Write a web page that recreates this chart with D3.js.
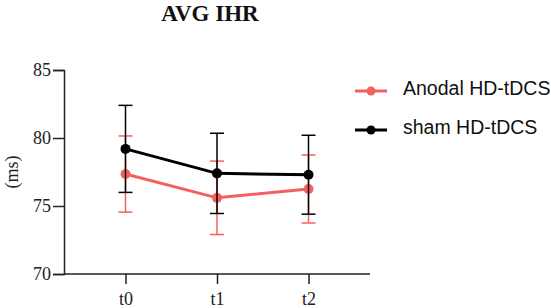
<!DOCTYPE html>
<html>
<head>
<meta charset="utf-8">
<script src="https://cdn.jsdelivr.net/npm/d3@7"></script>
<style>
  body { margin: 0; background: #fff; }
</style>
</head>
<body>
<div id="chart"></div>
<script>
var categories = ["t0", "t1", "t2"];
var yTicks = [70, 75, 80, 85];
var anodalMean = [77.35, 75.6, 76.25];
var anodalErr = [2.8, 2.7, 2.5];
var shamMean = [79.2, 77.4, 77.3];
var shamErr = [3.2, 2.95, 2.9];
var seriesNames = ["Anodal HD-tDCS", "sham HD-tDCS"];
var seriesColors = ["#f4605f", "#000000"];

function init(){
    var w = 551, h = 308;
    var serif = "Liberation Serif, Times New Roman, serif";
    var svg = d3.select("#chart").append("svg")
                .attr("width", w)
                .attr("height", h);

    var xScale = d3.scalePoint()
                .domain(categories)
                .range([64, 370])
                .padding(0.672);

    var yScale = d3.scaleLinear()
                .domain([70, 85])
                .range([274, 70]);

    // title
    svg.append("text")
        .attr("x", 210)
        .attr("y", 21)
        .attr("text-anchor", "middle")
        .attr("font-family", serif)
        .attr("font-weight", "bold")
        .attr("font-size", "23px")
        .attr("fill", "#111")
        .text("AVG IHR");

    // y axis
    var yAxis = d3.axisLeft(yScale)
                .tickValues(yTicks)
                .tickSize(11)
                .tickPadding(2);
    var gy = svg.append("g")
        .attr("transform", "translate(64,0)")
        .call(yAxis);
    gy.select(".domain").attr("stroke", "#222").attr("stroke-width", 1.5);
    gy.selectAll(".tick line").attr("stroke", "#222").attr("stroke-width", 1.5);
    gy.selectAll(".tick text")
        .attr("font-family", serif)
        .attr("font-size", "18px")
        .attr("fill", "#222");

    // x axis
    var xAxis = d3.axisBottom(xScale)
                .tickSize(10)
                .tickSizeOuter(0)
                .tickPadding(8);
    var gx = svg.append("g")
        .attr("transform", "translate(0,274)")
        .call(xAxis);
    gx.select(".domain").attr("stroke", "#222").attr("stroke-width", 1.5)
        .attr("d", "M64,0H370");
    gx.selectAll(".tick line").attr("stroke", "#222").attr("stroke-width", 1.5);
    gx.selectAll(".tick text")
        .attr("font-family", serif)
        .attr("font-size", "18px")
        .attr("fill", "#222");

    // y label
    svg.append("text")
        .attr("transform", "translate(18,172) rotate(-90)")
        .attr("text-anchor", "middle")
        .attr("font-family", serif)
        .attr("font-size", "18px")
        .attr("fill", "#222")
        .text("(ms)");

    var series = [
        {name: seriesNames[0], mean: anodalMean, err: anodalErr, color: seriesColors[0]},
        {name: seriesNames[1], mean: shamMean, err: shamErr, color: seriesColors[1]}
    ];

    var line = d3.line()
        .x(function(d, i){ return xScale(categories[i]); })
        .y(function(d){ return yScale(d); });

    series.forEach(function(s){
        var g = svg.append("g");
        // error bars
        s.mean.forEach(function(m, i){
            var x = xScale(categories[i]);
            var y1 = yScale(m + s.err[i]), y2 = yScale(m - s.err[i]);
            g.append("line").attr("x1", x).attr("x2", x).attr("y1", y1).attr("y2", y2)
                .attr("stroke", s.color).attr("stroke-width", 1.5);
            g.append("line").attr("x1", x - 7).attr("x2", x + 7).attr("y1", y1).attr("y2", y1)
                .attr("stroke", s.color).attr("stroke-width", 1.5);
            g.append("line").attr("x1", x - 7).attr("x2", x + 7).attr("y1", y2).attr("y2", y2)
                .attr("stroke", s.color).attr("stroke-width", 1.5);
        });
        g.append("path")
            .attr("d", line(s.mean))
            .attr("fill", "none")
            .attr("stroke", s.color)
            .attr("stroke-width", 3);
        g.selectAll("circle")
            .data(s.mean)
            .enter()
            .append("circle")
            .attr("cx", function(d, i){ return xScale(categories[i]); })
            .attr("cy", function(d){ return yScale(d); })
            .attr("r", 5)
            .attr("fill", s.color);
    });

    // legend
    series.forEach(function(s, i){
        var ly = 91 + i * 39;
        svg.append("line").attr("x1", 355).attr("x2", 387).attr("y1", ly).attr("y2", ly)
            .attr("stroke", s.color).attr("stroke-width", 3);
        svg.append("circle").attr("cx", 371).attr("cy", ly).attr("r", 4.5).attr("fill", s.color);
        svg.append("text")
            .attr("x", 403)
            .attr("y", ly + 4)
            .attr("font-family", "Liberation Sans, Arial, sans-serif")
            .attr("font-size", "19.5px")
            .attr("fill", "#111")
            .text(s.name);
    });
}
window.onload = init;
</script>
</body>
</html>
